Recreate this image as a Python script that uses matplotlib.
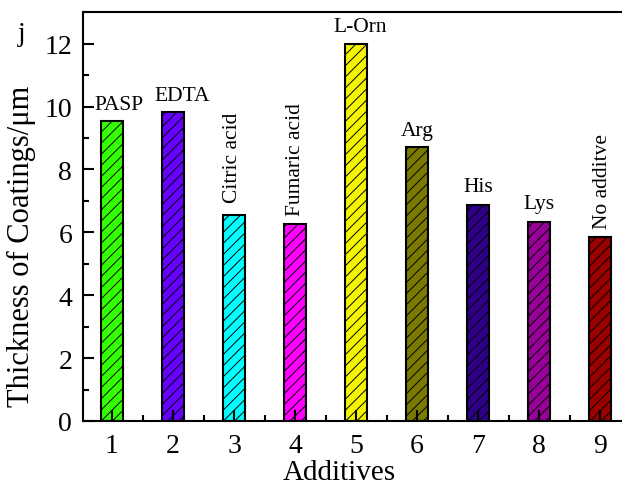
import matplotlib
matplotlib.use("Agg")
from matplotlib import pyplot as plt
from matplotlib.ticker import MultipleLocator

positions = [1, 2, 3, 4, 5, 6, 7, 8, 9]
thickness = [9.54, 9.84, 6.55, 6.25, 12.0, 8.72, 6.86, 6.34, 5.84]
names = ["PASP", "EDTA", "Citric acid", "Fumaric acid", "L-Orn",
         "Arg", "His", "Lys", "No additve"]
rotated = [False, False, True, True, False, False, False, False, True]
colours = ["#33FF00", "#6600FF", "#00FFFF", "#FF00FF", "#F5F500",
           "#7A7A00", "#2E0088", "#990099", "#990000"]

# label nudges in pixels (dx, dy above bar top)
nudges = [(7, 12), (9, 12), (-2, 13), (0, 9), (4, 13),
          (0, 12), (0, 14), (0, 14), (2, 9)]

plt.rcParams["font.family"] = ["Liberation Serif", "DejaVu Serif"]
plt.rcParams["hatch.linewidth"] = 0.7

fig = plt.figure(figsize=(6.22, 4.85), dpi=100)
ax = fig.add_axes([0.134, 0.130, 0.866, 0.8426])

ax.bar(positions, thickness, width=0.36, color=colours, edgecolor="black",
       linewidth=1.5, hatch="///")

px = 0.72  # points per pixel at 100 dpi
for x, h, name, rot, (dx, dy) in zip(positions, thickness, names, rotated, nudges):
    if rot:
        ax.annotate(name, (x, h), xytext=(dx * px, dy * px),
                    textcoords="offset points", rotation=90,
                    ha="center", va="bottom", fontsize=15.5)
    else:
        ax.annotate(name, (x, h), xytext=(dx * px, dy * px),
                    textcoords="offset points",
                    ha="center", va="baseline", fontsize=15.5)

ax.set_xlim(0.53, 9.36)
ax.set_ylim(0, 13)
ax.xaxis.set_major_locator(MultipleLocator(1))
ax.xaxis.set_minor_locator(MultipleLocator(0.5))
ax.yaxis.set_major_locator(MultipleLocator(2))
ax.yaxis.set_minor_locator(MultipleLocator(1))
ax.tick_params(which="both", direction="in", width=1.5, labelsize=20)
ax.tick_params(which="major", length=8)
ax.tick_params(which="minor", length=4)
ax.tick_params(axis="y", pad=8)
ax.tick_params(axis="x", pad=9)
ax.spines["right"].set_visible(False)
for side in ["left", "bottom", "top"]:
    ax.spines[side].set_linewidth(1.5)

ax.set_xlabel("Additives", fontsize=21)
ax.set_ylabel("Thickness of Coatings/μm", fontsize=22)
ax.xaxis.set_label_coords(0.476, -0.093)
ax.yaxis.set_label_coords(-0.115, 0.43)
ax.yaxis.label.set_verticalalignment("center")
fig.text(0.029, 0.915, "j", fontsize=20, va="baseline")

plt.savefig("out.png", dpi=100)
